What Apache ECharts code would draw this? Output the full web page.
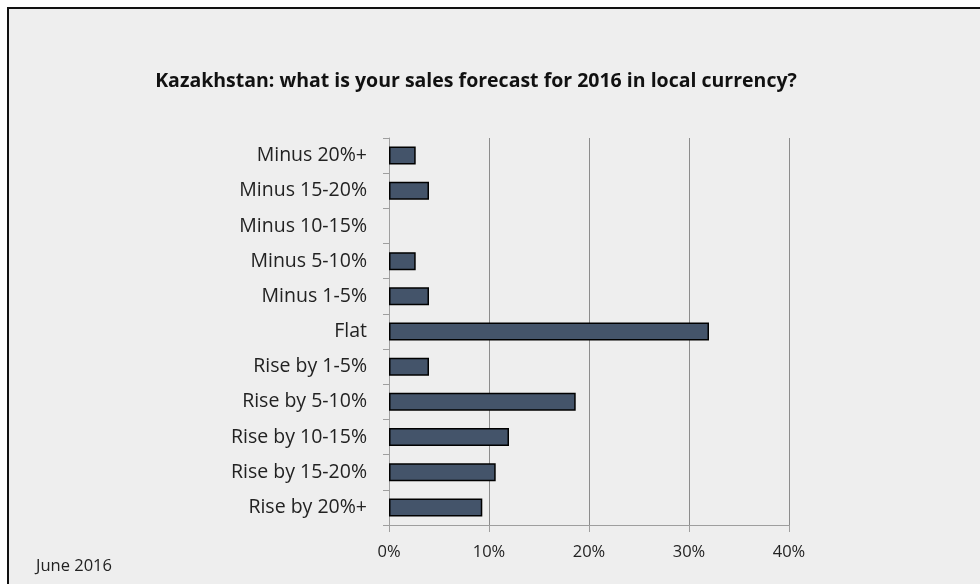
<!DOCTYPE html>
<html>
<head>
<meta charset="utf-8">
<script src="https://cdn.jsdelivr.net/npm/echarts@6/dist/echarts.min.js"></script>
<style>
  html, body { margin: 0; padding: 0; background: #ffffff; }
  #chart { width: 980px; height: 584px; }
</style>
</head>
<body>
<div id="chart"></div>
<script>
// Survey answer buckets, top to bottom
const categories = [
  'Minus 20%+', 'Minus 15-20%', 'Minus 10-15%', 'Minus 5-10%', 'Minus 1-5%',
  'Flat', 'Rise by 1-5%', 'Rise by 5-10%', 'Rise by 10-15%', 'Rise by 15-20%', 'Rise by 20%+'
];
// Share of respondents per bucket, in percent
const shares = [2.67, 4.0, 0, 2.67, 4.0, 32.0, 4.0, 18.67, 12.0, 10.67, 9.33];
// Value axis ticks, in percent
const xTicks = [0, 10, 20, 30, 40];

const titleText = 'Kazakhstan: what is your sales forecast for 2016 in local currency?';
const footnote = 'June 2016';

const FONT = 'Open Sans';

// empty buckets get no outline so no sliver is drawn at zero
const barData = shares.map(v => v === 0 ? { value: v, itemStyle: { borderWidth: 0 } } : v);

const chart = echarts.init(document.getElementById('chart'), null, { renderer: 'canvas' });

chart.setOption({
  backgroundColor: '#ffffff',
  animation: false,
  graphic: [
    {
      type: 'rect',
      z: -10,
      shape: { x: 8, y: 8, width: 990, height: 600 },
      style: { fill: '#eeeeee', stroke: '#111111', lineWidth: 2 }
    },
    {
      type: 'text',
      left: 36,
      top: 558,
      style: { text: footnote, font: '16.5px ' + FONT, fill: '#222222' }
    }
  ],
  title: {
    text: titleText,
    left: 471,
    top: 66,
    textAlign: 'center',
    textStyle: { fontFamily: FONT, fontSize: 19.5, fontWeight: 'bold', color: '#111111' }
  },
  grid: { left: 389, right: 191, top: 138, bottom: 59, containLabel: false },
  xAxis: {
    type: 'value',
    min: xTicks[0],
    max: xTicks[xTicks.length - 1],
    interval: xTicks[1] - xTicks[0],
    axisLine: { show: true, lineStyle: { color: '#9e9e9e', width: 1 } },
    axisTick: { show: true, length: 7, lineStyle: { color: '#9e9e9e' } },
    axisLabel: {
      margin: 19,
      fontFamily: FONT,
      fontSize: 16.5,
      color: '#222222',
      formatter: v => v + '%'
    },
    splitLine: { show: true, lineStyle: { color: '#8c8c8c', width: 1 } }
  },
  yAxis: {
    type: 'category',
    data: categories,
    inverse: true,
    axisLine: { show: true, lineStyle: { color: '#9e9e9e', width: 1 } },
    axisTick: { show: true, length: 6, lineStyle: { color: '#9e9e9e' } },
    axisLabel: { margin: 22, fontFamily: FONT, fontSize: 19.5, color: '#222222' }
  },
  series: [{
    type: 'bar',
    data: barData,
    barWidth: 18,
    itemStyle: { color: '#44546a', borderColor: '#000000', borderWidth: 1.5 }
  }]
});
</script>
</body>
</html>
